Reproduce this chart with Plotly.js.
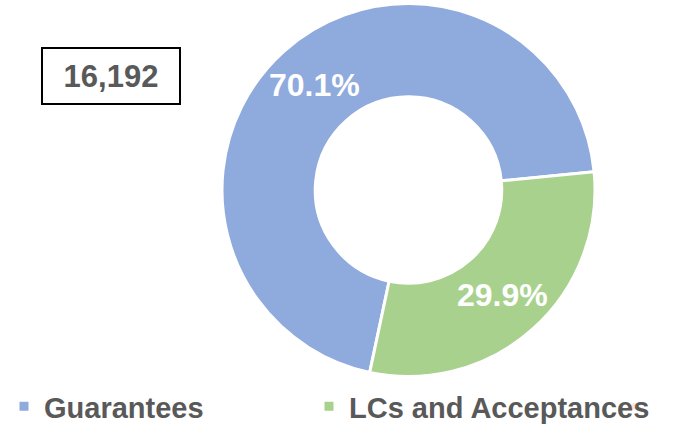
<!DOCTYPE html>
<html>
<head>
<meta charset="utf-8">
<script src="https://cdn.plot.ly/plotly-3.0.1.min.js"></script>
<style>html,body{margin:0;padding:0;background:#fff;}#chart{width:676px;height:426px;}</style>
</head>
<body>
<div id="chart"></div>
<script>
const categories = ["Guarantees", "LCs and Acceptances"];
const shares = [70.1, 29.9];
const sliceColors = ["#8FAADC", "#A9D18E"];
const totalLabel = "16,192";

const fontFamily = "Liberation Sans, Arial, sans-serif";
const W = 676, H = 426;
const pieDomain = { x: [222/W, 595/W], y: [1 - 377/H, 1 - 3/H] };
const startAngle = 192;   // degrees clockwise from 12 o'clock
const holeFrac = 0.5;

const pieTrace = {
  type: "pie",
  labels: categories,
  values: shares,
  sort: false,
  direction: "clockwise",
  rotation: startAngle,
  hole: holeFrac,
  marker: { colors: sliceColors, line: { color: "#ffffff", width: 3 } },
  textinfo: "none",
  textposition: "none",
  domain: pieDomain,
  hoverinfo: "none"
};

// blank spacer legend entry (no visible point) so the legend box is wide enough for the last label
const spacerTrace = {
  type: "scatter",
  mode: "markers",
  x: [null], y: [null],
  name: " ",
  marker: { opacity: 0 },
  showlegend: true,
  legendwidth: 1,
  hoverinfo: "none"
};

// percentage labels placed at each slice's mid-angle, inside the ring
const total = shares.reduce((a, b) => a + b, 0);
const cx = (pieDomain.x[0] + pieDomain.x[1]) / 2 * W;
const cy = (1 - (pieDomain.y[0] + pieDomain.y[1]) / 2) * H;
const R = Math.min((pieDomain.x[1] - pieDomain.x[0]) * W, (pieDomain.y[1] - pieDomain.y[0]) * H) / 2;
const labelR = R * (1 + holeFrac) / 2 * 1.01;
let acc = 0;
const pctAnnotations = shares.map(v => {
  const mid = startAngle + (acc + v / 2) / total * 360;
  acc += v;
  const a = mid * Math.PI / 180;
  const px = cx + labelR * Math.sin(a);
  const py = cy - labelR * Math.cos(a);
  return {
    text: (v / total * 100).toFixed(1) + "%",
    xref: "paper", yref: "paper",
    x: px / W, y: 1 - py / H,
    xanchor: "center", yanchor: "middle",
    showarrow: false,
    font: { family: fontFamily, size: 32, color: "#ffffff", weight: "bold" }
  };
});

const layout = {
  width: W,
  height: H,
  margin: { l: 0, r: 0, t: 0, b: 0, autoexpand: false },
  paper_bgcolor: "#ffffff",
  plot_bgcolor: "#ffffff",
  xaxis: { visible: false },
  yaxis: { visible: false },
  showlegend: true,
  legend: {
    orientation: "h",
    x: 4/W,
    xanchor: "left",
    y: -6/H,
    yanchor: "bottom",
    font: { family: fontFamily, size: 29, color: "#595959", weight: "bold" },
    entrywidth: 260,
    entrywidthmode: "pixels",
    bgcolor: "rgba(0,0,0,0)",
    itemclick: false
  },
  annotations: [{
    text: totalLabel,
    xref: "paper", yref: "paper",
    x: 111/W, y: 1 - 76/H,
    xanchor: "center", yanchor: "middle",
    showarrow: false,
    font: { family: fontFamily, size: 31, color: "#595959", weight: "bold" },
    bordercolor: "#000000",
    borderwidth: 2,
    borderpad: 2,
    width: 132,
    height: 50
  }].concat(pctAnnotations)
};

Plotly.newPlot("chart", [pieTrace, spacerTrace], layout, { displayModeBar: false, staticPlot: true });
</script>
</body>
</html>
